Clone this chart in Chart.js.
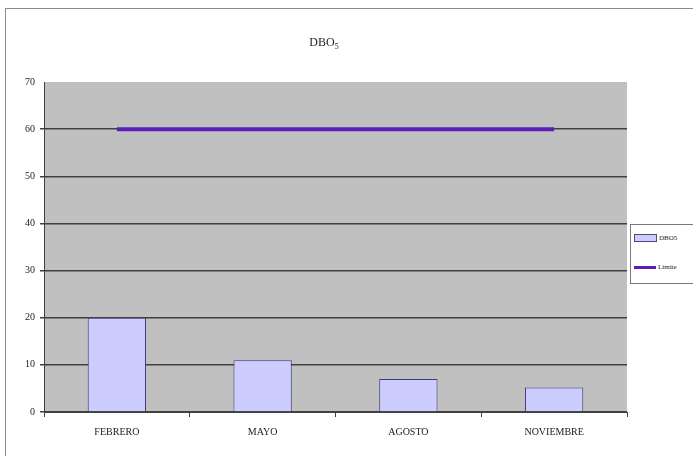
<!DOCTYPE html>
<html>
<head>
<meta charset="utf-8">
<script src="https://cdn.jsdelivr.net/npm/chart.js@4/dist/chart.umd.min.js"></script>
<style>
  html, body { margin: 0; padding: 0; background: #fff; }
  #wrap { position: relative; width: 693px; height: 456px; overflow: hidden; }
  #frame { position: absolute; left: 5px; top: 8px; width: 720px; height: 480px; border: 1px solid #8a8a8a; pointer-events: none; }
  #title { position: absolute; left: 4px; width: 640px; top: 35px; text-align: center; font-family: "Liberation Serif", serif; font-size: 12px; color: #222; }
  #title sub { font-size: 8px; }
  #legend { position: absolute; left: 630px; top: 224px; width: 62px; height: 58px; border: 1px solid #7a7a7a; background: #fff; font-family: "Liberation Serif", serif; font-size: 7px; color: #222; }
  .item { position: absolute; left: 3px; display: flex; align-items: center; }
  .sw-bar { width: 21px; height: 6px; background: #ccccff; border: 1px solid #4a4a80; margin-right: 2px; }
  .sw-line { width: 22px; height: 3px; background: #5a1eb4; margin-right: 2px; }
</style>
</head>
<body>
<div id="wrap">
  <canvas id="c" width="693" height="456"></canvas>
  <div id="title">DBO<sub>5</sub></div>
  <div id="legend">
    <div class="item" style="top:9px"><div class="sw-bar"></div><span id="lg0"></span></div>
    <div class="item" style="top:38px"><div class="sw-line"></div><span id="lg1"></span></div>
  </div>
  <div id="frame"></div>
</div>
<script>
const categories = ["FEBRERO", "MAYO", "AGOSTO", "NOVIEMBRE"];
const dboValues = [20, 11, 7, 5.2];
const limiteValues = [60, 60, 60, 60];
const seriesNames = ["DBO5", "Limite"];
const yTicks = [0, 10, 20, 30, 40, 50, 60, 70];

document.getElementById('lg0').textContent = seriesNames[0];
document.getElementById('lg1').textContent = seriesNames[1];

const bgPlugin = {
  id: 'plotBg',
  beforeDraw(chart) {
    const a = chart.chartArea, ctx = chart.ctx;
    ctx.save();
    ctx.fillStyle = '#c0c0c0';
    ctx.fillRect(a.left, a.top, a.right - a.left, a.bottom - a.top);
    ctx.restore();
  }
};

new Chart(document.getElementById('c'), {
  type: 'bar',
  data: {
    labels: categories,
    datasets: [
      {
        type: 'line',
        label: seriesNames[1],
        data: limiteValues,
        borderColor: '#5a1eb4',
        borderWidth: 4,
        pointRadius: 0,
        fill: false,
        order: 0
      },
      {
        type: 'bar',
        label: seriesNames[0],
        data: dboValues,
        backgroundColor: '#ccccff',
        borderColor: '#3c3c78',
        borderWidth: 1,
        barPercentage: 0.4,
        categoryPercentage: 1.0,
        order: 1
      }
    ]
  },
  options: {
    responsive: false,
    animation: false,
    layout: { padding: { left: 0, right: 66, top: 82, bottom: 0 } },
    plugins: { legend: { display: false }, title: { display: false }, tooltip: { enabled: false } },
    scales: {
      x: {
        offset: true,
        grid: { offset: true, drawOnChartArea: false, drawTicks: true, tickLength: 5, color: '#404040' },
        border: { display: true, color: '#404040', width: 1 },
        ticks: { font: { family: 'Liberation Serif', size: 10 }, color: '#222', padding: 9, maxRotation: 0 },
        afterFit(s) { s.height = 44; }
      },
      y: {
        min: 0, max: 70,
        afterBuildTicks(s) { s.ticks = yTicks.map(v => ({ value: v })); },
        grid: {
          color: '#404040',
          lineWidth: (c) => (c.tick && c.tick.value === 70) ? 0 : 1.5,
          tickLength: 4,
          drawTicks: true
        },
        border: { display: true, color: '#404040', width: 1 },
        ticks: { font: { family: 'Liberation Serif', size: 10 }, color: '#222', padding: 5 },
        afterFit(s) { s.width = 44; }
      }
    }
  },
  plugins: [bgPlugin]
});
</script>
</body>
</html>
